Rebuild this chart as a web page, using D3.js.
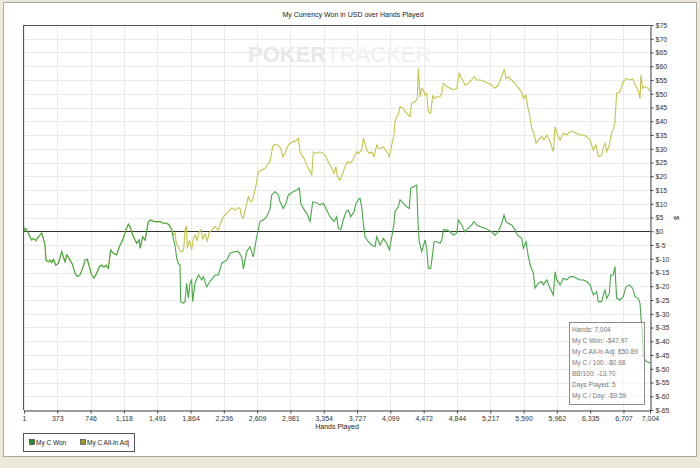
<!DOCTYPE html>
<html><head><meta charset="utf-8">
<script src="https://cdn.jsdelivr.net/npm/d3@7"></script>
<style>
body{margin:0;background:#ece9d8}
svg{display:block}
text{font-family:"Liberation Sans",Arial,sans-serif}
</style>
</head><body><svg id="c" width="700" height="468"></svg>
<script>
const chartTitle = "My Currency Won in USD over Hands Played";
const handTicks = [1,373,746,1118,1491,1864,2236,2609,2981,3354,3727,4099,4472,4844,5217,5590,5962,6335,6707,7004];
const dollarTicks = [75,70,65,60,55,50,45,40,35,30,25,20,15,10,5,0,-5,-10,-15,-20,-25,-30,-35,-40,-45,-50,-55,-60,-65];
const seriesNames = ["My C Won","My C All-In Adj"];
const statsLines = ["Hands: 7,004","My C Won: -$47.97","My C All-In Adj: $50.89","My C / 100: -$0.68","BB/100: -13.70","Days Played: 5","My C / Day: -$9.59"];

const wonSeries = [[1,0],[12,1.1],[31,0.5],[68,-2.0],[87,-3.2],[105,-2.6],[135,-3.4],[161,-2.0],[199,-0.7],[217,-2.6],[236,-5.0],[247,-10.5],[273,-11.1],[292,-10.5],[311,-11.4],[329,-10.2],[356,-12.3],[385,-11.7],[423,-7.4],[441,-9.3],[460,-11.1],[479,-8.6],[497,-9.3],[516,-10.5],[546,-12.3],[572,-15.3],[597,-16.5],[627,-15.9],[658,-13.5],[683,-10.5],[709,-10.2],[732,-12.9],[758,-15.9],[784,-17.1],[814,-15.3],[843,-12.9],[870,-12.3],[896,-13.1],[918,-12.3],[944,-13.5],[971,-6.8],[1000,-8.0],[1038,-8.6],[1067,-5.6],[1105,-3.2],[1142,0.5],[1168,2.6],[1187,1.7],[1217,-1.4],[1243,-3.2],[1262,-4.4],[1291,-3.2],[1299,-6.2],[1329,-2.0],[1355,-3.2],[1392,3.5],[1418,4.1],[1455,3.5],[1485,3.5],[1522,3.5],[1559,2.9],[1597,2.9],[1626,2.3],[1653,0.5],[1671,-2.6],[1690,-5.0],[1709,-9.8],[1727,-11.7],[1746,-12.3],[1754,-25.6],[1783,-26.2],[1802,-25.6],[1821,-18.9],[1839,-24.3],[1858,-18.9],[1877,-17.7],[1888,-25.6],[1914,-18.9],[1951,-15.9],[1989,-17.7],[2007,-16.5],[2045,-20.2],[2082,-18.3],[2138,-15.9],[2175,-15.9],[2213,-11.7],[2269,-10.5],[2306,-8.0],[2362,-7.4],[2398,-7.4],[2437,-9.3],[2455,-13.7],[2492,-7.4],[2529,-5.6],[2566,-9.3],[2604,-2.0],[2641,3.5],[2678,4.1],[2716,5.3],[2753,8.1],[2772,13.2],[2809,14.4],[2846,13.2],[2865,10.7],[2902,8.3],[2932,10.2],[2958,13.2],[3014,14.4],[3052,15.0],[3081,15.7],[3097,10.2],[3126,8.3],[3164,6.5],[3201,3.5],[3231,10.7],[3275,10.4],[3312,9.5],[3349,10.2],[3387,7.7],[3424,5.3],[3469,3.5],[3499,5.3],[3517,1.1],[3544,0.5],[3573,4.1],[3603,7.1],[3629,7.7],[3656,5.3],[3693,7.1],[3715,10.2],[3741,11.4],[3760,12.0],[3779,8.9],[3797,2.9],[3816,-2.0],[3853,-3.8],[3891,-5.0],[3928,-5.6],[3947,-2.0],[3984,-5.0],[4021,-2.6],[4059,-4.4],[4088,-6.8],[4115,-2.0],[4140,2.9],[4151,7.1],[4188,8.9],[4207,11.4],[4244,10.2],[4282,8.9],[4311,8.3],[4327,15.6],[4356,16.2],[4394,16.8],[4412,0.5],[4423,-3.8],[4450,-7.4],[4487,-3.2],[4506,-6.2],[4524,-13.5],[4551,-13.5],[4573,-8.0],[4588,-3.8],[4618,-3.8],[4655,-4.4],[4674,-3.2],[4692,0.5],[4730,0.5],[4767,-0.2],[4804,-1.4],[4842,-0.7],[4859,4.1],[4897,2.3],[4934,-0.2],[4971,1.1],[5009,2.3],[5035,3.5],[5065,2.3],[5102,1.7],[5158,1.1],[5195,0.5],[5233,-0.2],[5270,-1.4],[5307,-0.2],[5345,2.9],[5371,5.9],[5393,3.5],[5419,2.9],[5457,2.3],[5494,0.5],[5520,-1.4],[5569,-2.6],[5587,-6.2],[5617,-3.8],[5643,-9.3],[5670,-12.9],[5699,-15.3],[5718,-20.7],[5755,-18.9],[5793,-18.3],[5811,-19.5],[5849,-17.7],[5886,-20.7],[5923,-23.2],[5942,-14.7],[5961,-17.7],[5998,-19.5],[6035,-17.1],[6073,-17.7],[6110,-16.5],[6146,-16.5],[6184,-17.1],[6221,-17.7],[6258,-17.7],[6296,-18.3],[6333,-19.5],[6370,-23.2],[6408,-22.0],[6426,-25.6],[6464,-25.6],[6482,-23.2],[6501,-21.4],[6520,-24.4],[6549,-22.6],[6564,-15.9],[6593,-15.9],[6612,-12.9],[6631,-24.4],[6668,-25.0],[6705,-23.8],[6735,-20.2],[6772,-19.5],[6810,-20.7],[6836,-23.8],[6873,-24.4],[6892,-26.2],[6906,-32.3],[6918,-35.9],[6929,-45.7],[6959,-47.2],[7004,-47.97]];

// All-In Adjusted follows "My C Won" exactly until hand 1653, then diverges:
const adjDivergeHand = 1653;
const adjTail = [[1671,-1.4],[1690,-0.6],[1705,-4.3],[1727,-5.7],[1746,-7.2],[1776,-7.4],[1789,-6.1],[1802,0.5],[1817,1.9],[1828,-6.1],[1852,-3.2],[1877,-6.8],[1895,-2.5],[1919,-1.4],[1936,-3.5],[1964,0.1],[1981,0.5],[2000,-2.8],[2026,-1.0],[2052,-3.5],[2071,-0.6],[2104,0.5],[2138,1.7],[2175,0.5],[2199,2.9],[2231,5.3],[2287,7.1],[2325,8.5],[2362,7.7],[2398,8.6],[2417,8.3],[2436,5.3],[2454,4.7],[2484,8.9],[2510,12.6],[2537,10.7],[2559,11.4],[2585,15.0],[2604,18.0],[2622,21.7],[2660,22.3],[2697,22.9],[2723,24.1],[2753,25.3],[2783,30.7],[2809,31.7],[2846,31.2],[2873,30.2],[2895,27.1],[2921,28.3],[2947,30.7],[2977,32.0],[3014,32.6],[3044,32.9],[3070,33.8],[3089,28.9],[3108,27.7],[3133,26.5],[3164,24.1],[3193,22.3],[3220,20.5],[3238,28.9],[3275,28.3],[3312,28.9],[3349,28.3],[3379,27.1],[3405,25.3],[3435,23.5],[3469,21.1],[3491,23.5],[3506,19.8],[3536,18.6],[3566,21.1],[3592,23.5],[3618,25.3],[3648,24.7],[3678,25.9],[3704,27.7],[3723,28.9],[3741,28.3],[3779,29.5],[3797,33.8],[3816,32.0],[3835,29.5],[3864,28.3],[3891,28.9],[3916,27.1],[3947,31.4],[3965,30.2],[3984,30.2],[4021,30.7],[4059,28.9],[4088,27.1],[4115,31.4],[4140,35.0],[4151,39.8],[4170,41.7],[4188,42.3],[4207,45.3],[4244,44.7],[4282,42.9],[4319,41.7],[4338,46.5],[4375,47.1],[4401,48.3],[4412,59.3],[4431,48.9],[4450,52.0],[4468,51.4],[4487,49.5],[4506,50.2],[4524,43.5],[4551,42.9],[4573,49.5],[4588,48.3],[4618,48.9],[4655,48.9],[4674,50.2],[4692,53.8],[4730,52.6],[4767,52.0],[4804,51.4],[4842,52.0],[4871,57.4],[4897,55.6],[4934,53.2],[4971,53.8],[5009,55.0],[5038,56.2],[5065,55.0],[5102,55.0],[5158,54.4],[5195,53.8],[5233,53.2],[5270,52.0],[5307,53.2],[5345,56.2],[5374,59.0],[5393,55.6],[5419,56.2],[5457,55.0],[5494,53.8],[5520,52.6],[5569,50.7],[5587,48.3],[5617,49.5],[5632,45.9],[5654,42.9],[5681,37.4],[5706,35.6],[5729,32.0],[5755,33.2],[5793,34.4],[5818,33.2],[5849,35.0],[5886,32.6],[5923,28.9],[5942,38.0],[5961,35.6],[5998,33.2],[6035,35.6],[6073,35.0],[6110,36.2],[6146,36.2],[6184,35.6],[6221,35.0],[6258,35.0],[6296,34.4],[6333,33.2],[6370,29.5],[6400,31.4],[6426,27.1],[6464,27.7],[6482,30.7],[6501,32.0],[6520,28.9],[6549,31.4],[6576,36.2],[6593,36.8],[6612,39.8],[6631,50.2],[6668,50.7],[6705,54.4],[6743,55.6],[6780,55.0],[6810,55.4],[6836,53.2],[6873,51.4],[6892,48.3],[6903,56.8],[6922,52.0],[6947,52.6],[6984,52.0],[7004,50.89]];

const adjSeries = wonSeries.filter(d => d[0] <= adjDivergeHand).concat(adjTail);

const colors = {won:"#47a847", adj:"#c4c44c", wonKey:"#2f8a2f", adjKey:"#9a9a2c"};

const svg = d3.select("#c");
svg.append("rect").attr("width",700).attr("height",468).attr("fill","#ece9d8");
svg.append("rect").attr("x",3.5).attr("y",2.5).attr("width",693).attr("height",454)
  .attr("fill","#fff").attr("stroke","#a8a8a0");

const x = d3.scaleLinear().domain([1,7004]).range([24,650]);
const y = d3.scaleLinear().domain([-65,75]).range([410,25]);

const g = svg.append("g");
g.selectAll(".hg").data(dollarTicks).join("line")
  .attr("x1",x(1)).attr("x2",x(7004))
  .attr("y1",d=>Math.round(y(d))+0.5).attr("y2",d=>Math.round(y(d))+0.5)
  .attr("stroke","#ebebeb").attr("stroke-width",1);
g.selectAll(".vg").data(handTicks).join("line")
  .attr("x1",d=>Math.round(x(d))+0.5).attr("x2",d=>Math.round(x(d))+0.5)
  .attr("y1",y(75)).attr("y2",y(-65))
  .attr("stroke","#ebebeb").attr("stroke-width",1);

const wm = svg.append("text").attr("x",248).attr("y",62).attr("font-size",22);
wm.append("tspan").attr("font-weight","bold").attr("fill","#e8e8e8").text("POKER");
wm.append("tspan").attr("fill","#efefef").text("TRACKER");

svg.append("line").attr("x1",x(1)).attr("x2",x(7004))
  .attr("y1",Math.round(y(0))+0.5).attr("y2",Math.round(y(0))+0.5)
  .attr("stroke","#333").attr("stroke-width",1);

const line = d3.line().x(d=>x(d[0])).y(d=>y(d[1]));
svg.append("path").datum(adjSeries).attr("d",line).attr("fill","none")
  .attr("stroke",colors.adj).attr("stroke-width",1.1);
svg.append("path").datum(wonSeries).attr("d",line).attr("fill","none")
  .attr("stroke",colors.won).attr("stroke-width",1.1);

svg.append("line").attr("x1",23.5).attr("x2",650).attr("y1",25.5).attr("y2",25.5).attr("stroke","#555");
svg.append("line").attr("x1",23.5).attr("x2",23.5).attr("y1",25).attr("y2",410).attr("stroke","#555");

const ax = svg.append("g").attr("transform","translate(0,"+(Math.round(y(-65))+0.5)+")")
  .call(d3.axisBottom(x).tickValues(handTicks).tickSize(3).tickSizeOuter(0).tickPadding(3).tickFormat(d3.format(",")));
const ay = svg.append("g").attr("transform","translate("+(Math.round(x(7004))+0.5)+",0)")
  .call(d3.axisRight(y).tickValues(dollarTicks).tickSize(3).tickSizeOuter(0).tickPadding(2).tickFormat(d=>"$"+d));
[ax,ay].forEach(a=>{
  a.select(".domain").attr("stroke","#444");
  a.selectAll(".tick line").attr("stroke","#444");
  a.selectAll("text").attr("font-size",7).attr("fill","#333").attr("font-family","'Liberation Sans',Arial,sans-serif");
});

svg.append("text").attr("x",353).attr("y",17).attr("text-anchor","middle")
  .attr("font-size",7).attr("fill","#222").text(chartTitle);
svg.append("text").attr("x",337).attr("y",429).attr("text-anchor","middle")
  .attr("font-size",7).attr("fill","#222").text("Hands Played");
svg.append("text").attr("transform","translate(674,218) rotate(90)").attr("text-anchor","middle")
  .attr("font-size",7).attr("fill","#222").text("$");

svg.append("rect").attr("x",569.5).attr("y",322.5).attr("width",75).attr("height",82)
  .attr("fill","#fff").attr("fill-opacity",0.6).attr("stroke","#8c8c8c");
svg.selectAll(".st").data(statsLines).join("text")
  .attr("x",572).attr("y",(d,i)=>331.5+i*11)
  .attr("font-size",6.5).attr("fill","#777").text(d=>d);

svg.append("rect").attr("x",23.5).attr("y",433.5).attr("width",111).attr("height",18)
  .attr("fill","#fff").attr("stroke","#555");
const leg = [{n:seriesNames[0],c:colors.wonKey,x:29},{n:seriesNames[1],c:colors.adjKey,x:80}];
leg.forEach(l=>{
  svg.append("rect").attr("x",l.x+0.5).attr("y",439.5).attr("width",5).attr("height",5)
    .attr("fill",l.c).attr("stroke","#333").attr("stroke-width",0.6);
  svg.append("text").attr("x",l.x+7).attr("y",444.5).attr("font-size",6.5).attr("fill","#222").text(l.n);
});
</script>
</body></html>
